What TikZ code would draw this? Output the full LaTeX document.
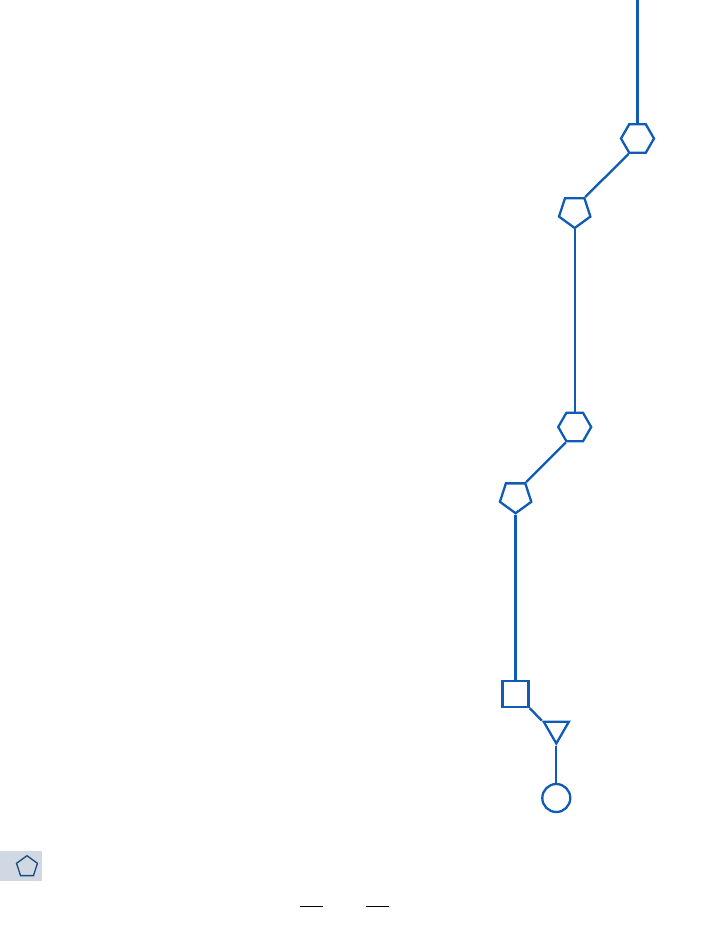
\documentclass[tikz,border=0pt]{standalone}
\usetikzlibrary{shapes.geometric}
\definecolor{lineblue}{RGB}{16,92,180}
\definecolor{darkblue}{RGB}{26,74,122}
\definecolor{boxgray}{RGB}{208,216,227}
\tikzset{
  blueline/.style={draw=lineblue, line width=2.3pt},
  hexnode/.style={blueline, regular polygon, regular polygon sides=6, minimum size=33pt, inner sep=0pt, fill=white},
  pentnode/.style={blueline, regular polygon, regular polygon sides=5, shape border rotate=180, minimum size=33pt, inner sep=0pt, fill=white},
  trinode/.style={blueline, regular polygon, regular polygon sides=3, shape border rotate=180, minimum size=29pt, inner sep=0pt, fill=white},
  sqnode/.style={blueline, rectangle, minimum size=26pt, inner sep=0pt, fill=white},
  circnode/.style={blueline, circle, minimum size=28pt, inner sep=0pt, fill=white},
  conn/.style={draw=lineblue, line width=2.3pt},
  bar/.style={draw=black, line width=1pt}
}
\begin{document}
\begin{tikzpicture}[x=1pt,y=-1pt]
\useasboundingbox (0,0) rectangle (709,945);
% legend box
\fill[boxgray] (0,850.7) rectangle (42,880.7);
\node[draw=darkblue, line width=1.3pt, regular polygon, regular polygon sides=5, minimum size=22pt, inner sep=0pt] (legpent) at (27,866.7) {};
% nodes
\coordinate (top) at (637.5,0);
\node[hexnode] (hexA) at (637.5,138.5) {};
\node[pentnode] (pentA) at (574.7,211.5) {};
\node[hexnode] (hexB) at (574.7,427) {};
\node[pentnode] (pentB) at (515.6,496.7) {};
\node[sqnode] (sq) at (515.6,694) {};
\node[trinode] (tri) at (556.3,729) {};
\node[circnode] (circ) at (556.3,798) {};
% connectors
\draw[conn] (top) -- (hexA.north);
\draw[conn] (hexA.240) -- (pentA.54);
\draw[conn] (pentA.270) -- (hexB.north);
\draw[conn] (hexB.240) -- (pentB.54);
\draw[conn] (pentB.270) -- (sq.north);
\draw[conn] (sq.south east) -- (tri.150);
\draw[conn] (tri.270) -- (circ.north);
% bars
\coordinate (b1a) at (300,906);
\coordinate (b1b) at (322.7,906);
\coordinate (b2a) at (366,906);
\coordinate (b2b) at (388.7,906);
\draw[bar] (b1a) -- (b1b);
\draw[bar] (b2a) -- (b2b);
\end{tikzpicture}
\end{document}
